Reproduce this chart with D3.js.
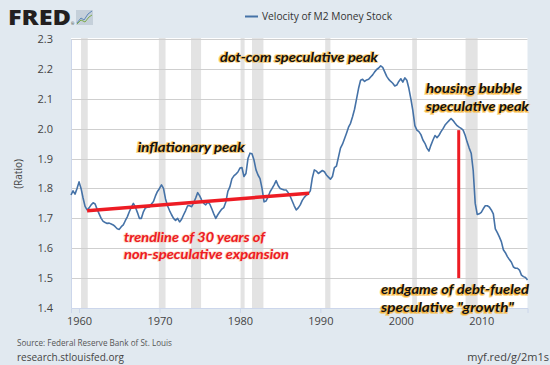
<!DOCTYPE html>
<html>
<head>
<meta charset="utf-8">
<script src="https://d3js.org/d3.v7.min.js"></script>
<style>
  body { margin: 0; background: #e1e9f0; }
  text { font-family: 'Open Sans', 'DejaVu Sans', sans-serif; }
  .note { font-family: Lato, 'Open Sans', sans-serif; font-weight: bold; font-style: italic; font-size: 14px; }
</style>
</head>
<body>
<script>
// velocity of M2, quarterly from 1959 Q1
const startYear = 1959;
const m2v = [
  1.778, 1.792, 1.781, 1.800,   // 1959
  1.822, 1.800, 1.768, 1.740,   // 1960
  1.728, 1.735, 1.745, 1.752,   // 1961
  1.748, 1.730, 1.715, 1.700,   // 1962
  1.690, 1.686, 1.683, 1.684,   // 1963
  1.681, 1.678, 1.672, 1.665,   // 1964
  1.663, 1.672, 1.678, 1.692,   // 1965
  1.705, 1.722, 1.737, 1.750,   // 1966
  1.738, 1.720, 1.700, 1.700,   // 1967
  1.722, 1.735, 1.737, 1.738,   // 1968
  1.748, 1.756, 1.775, 1.790,   // 1969
  1.800, 1.812, 1.800, 1.765,   // 1970
  1.742, 1.726, 1.712, 1.700,   // 1971
  1.693, 1.700, 1.688, 1.697,   // 1972
  1.712, 1.726, 1.742, 1.742,   // 1973
  1.739, 1.752, 1.768, 1.786,   // 1974
  1.775, 1.761, 1.750, 1.745,   // 1975
  1.754, 1.748, 1.732, 1.715,   // 1976
  1.700, 1.712, 1.722, 1.731,   // 1977
  1.736, 1.755, 1.790, 1.805,   // 1978
  1.832, 1.842, 1.848, 1.855,   // 1979
  1.868, 1.870, 1.840, 1.850,   // 1980
  1.900, 1.918, 1.916, 1.895,   // 1981
  1.862, 1.845, 1.833, 1.800,   // 1982
  1.755, 1.758, 1.772, 1.789,   // 1983
  1.800, 1.812, 1.826, 1.810,   // 1984
  1.800, 1.797, 1.795, 1.795,   // 1985
  1.786, 1.774, 1.758, 1.742,   // 1986
  1.728, 1.735, 1.745, 1.760,   // 1987
  1.770, 1.777, 1.782, 1.792,   // 1988
  1.835, 1.862, 1.858, 1.850,   // 1989
  1.855, 1.860, 1.856, 1.845,   // 1990
  1.838, 1.831, 1.840, 1.870,   // 1991
  1.875, 1.905, 1.935, 1.948,   // 1992
  1.966, 1.985, 2.005, 2.018,   // 1993
  2.040, 2.065, 2.100, 2.135,   // 1994
  2.162, 2.165, 2.158, 2.163,   // 1995
  2.165, 2.173, 2.180, 2.190,   // 1996
  2.198, 2.203, 2.210, 2.205,   // 1997
  2.190, 2.175, 2.165, 2.158,   // 1998
  2.152, 2.143, 2.146, 2.158,   // 1999
  2.167, 2.156, 2.170, 2.162,   // 2000
  2.135, 2.100, 2.060, 2.010,   // 2001
  1.995, 1.990, 1.980, 1.962,   // 2002
  1.951, 1.935, 1.925, 1.945,   // 2003
  1.962, 1.977, 1.970, 1.978,   // 2004
  1.990, 2.000, 2.012, 2.020,   // 2005
  2.027, 2.034, 2.027, 2.018,   // 2006
  2.010, 2.005, 2.001, 1.995,   // 2007
  1.978, 1.955, 1.935, 1.918,   // 2008
  1.860, 1.750, 1.713, 1.715,   // 2009
  1.720, 1.732, 1.742, 1.742,   // 2010
  1.738, 1.728, 1.715, 1.665,   // 2011
  1.652, 1.638, 1.622, 1.595,   // 2012
  1.585, 1.572, 1.562, 1.553,   // 2013
  1.537, 1.533, 1.533, 1.527,   // 2014
  1.510, 1.505, 1.502, 1.494    // 2015
];

const yTicks = [1.4, 1.5, 1.6, 1.7, 1.8, 1.9, 2.0, 2.1, 2.2, 2.3];
const xTicks = [1960, 1970, 1980, 1990, 2000, 2010];
const recessions = [[1960.25, 1961.08], [1969.92, 1970.75], [1973.92, 1975.17], [1980.08, 1980.58],
                    [1981.5, 1982.92], [1990.6, 1991.25], [2001.42, 2002.0], [2008.05, 2009.55]];

// red marks drawn on top (year, value)
const trendline = [[1961.0, 1.725], [1988.6, 1.784]];
const endLine = [[2007.2, 1.995], [2007.2, 1.50]];

// annotations: text, year, value, width
const blackNotes = [
  ["inflationary peak", 1967.29, 1.923, 107],
  ["dot-com speculative peak", 1977.52, 2.224, 158],
  ["housing bubble", 2003.13, 2.119, 96],
  ["speculative peak", 2003.13, 2.059, 103],
  ["endgame of debt-fueled", 1997.54, 1.446, 148],
  ["speculative \"growth\"", 1997.54, 1.386, 133]
];
const redNotes = [
  ["trendline of 30 years of", 1965.59, 1.622, 141],
  ["non-speculative expansion", 1965.59, 1.564, 165]
];

const W = 550, H = 365;
const svg = d3.select("body").append("svg").attr("width", W).attr("height", H);

const data = m2v.map((v, i) => ({t: startYear + i / 4, v: v}));

const x = d3.scaleLinear().domain([startYear, startYear + (m2v.length - 1) / 4]).range([71, 527.5]);
const y = d3.scaleLinear().domain([1.4, 2.3]).range([308, 39]);

// plot background
svg.append("rect").attr("x", 71).attr("y", 38).attr("width", 456.5).attr("height", 270).attr("fill", "white");

// recession bands
svg.append("g").selectAll("rect").data(recessions).enter().append("rect")
  .attr("x", d => x(d[0])).attr("y", 38)
  .attr("width", d => x(d[1]) - x(d[0])).attr("height", 270)
  .attr("fill", "#e3e3e3");

// grid
svg.append("g").selectAll("line").data(yTicks.slice(1)).enter().append("line")
  .attr("x1", 71).attr("x2", 527.5)
  .attr("y1", d => Math.round(y(d)) + 0.5).attr("y2", d => Math.round(y(d)) + 0.5)
  .attr("stroke", "#cfcfcf");

// y axis labels
const yAxis = svg.append("g").attr("transform", "translate(71,0)")
  .call(d3.axisLeft(y).tickValues(yTicks).tickFormat(d3.format(".1f")).tickSize(0).tickPadding(18));
yAxis.select(".domain").attr("stroke", "#ccd6eb");
yAxis.selectAll("text").attr("font-size", 11).attr("fill", "#444").attr("font-family", "'Open Sans', sans-serif");

// x axis
const xAxis = svg.append("g").attr("transform", "translate(0,308)")
  .call(d3.axisBottom(x).tickValues(xTicks).tickFormat(d3.format("d")).tickSize(5).tickPadding(4));
xAxis.select(".domain").attr("stroke", "#ccd6eb");
xAxis.selectAll("line").attr("stroke", "#ccd6eb");
xAxis.selectAll("text").attr("font-size", 11).attr("fill", "#444").attr("font-family", "'Open Sans', sans-serif");

// the series
const line = d3.line().x(d => x(d.t)).y(d => y(d.v));
svg.append("path").datum(data).attr("d", line)
  .attr("fill", "none").attr("stroke", "#4572a7").attr("stroke-width", 1.6).attr("stroke-linejoin", "round");

// red lines
const redLine = d3.line().x(d => x(d[0])).y(d => y(d[1]));
svg.append("path").attr("d", redLine(trendline)).attr("stroke", "#ed1c24").attr("stroke-width", 3.5).attr("fill", "none");
svg.append("path").attr("d", redLine(endLine)).attr("stroke", "#ed1c24").attr("stroke-width", 3).attr("fill", "none");

// annotations
const notes = svg.append("g");
blackNotes.forEach(n => {
  notes.append("text").attr("class", "note")
    .attr("x", x(n[1]) - 0.6).attr("y", y(n[2]) + 0.6)
    .attr("textLength", n[3]).attr("lengthAdjust", "spacingAndGlyphs")
    .attr("fill", "#f4a81f").attr("stroke", "#f6b73c").attr("stroke-width", 2).attr("stroke-opacity", 0.55)
    .text(n[0]);
  notes.append("text").attr("class", "note")
    .attr("x", x(n[1])).attr("y", y(n[2]))
    .attr("textLength", n[3]).attr("lengthAdjust", "spacingAndGlyphs")
    .attr("fill", "#111")
    .text(n[0]);
});
redNotes.forEach(n => {
  notes.append("text").attr("class", "note")
    .attr("x", x(n[1]) - 0.5).attr("y", y(n[2]) + 0.5)
    .attr("textLength", n[3]).attr("lengthAdjust", "spacingAndGlyphs")
    .attr("fill", "#f7b0a0").attr("stroke", "#f9c0a8").attr("stroke-width", 1.5).attr("stroke-opacity", 0.5)
    .text(n[0]);
  notes.append("text").attr("class", "note")
    .attr("x", x(n[1])).attr("y", y(n[2]))
    .attr("textLength", n[3]).attr("lengthAdjust", "spacingAndGlyphs")
    .attr("fill", "#ed1c24")
    .text(n[0]);
});

// y label
svg.append("text").attr("transform", "translate(22,174) rotate(-90)")
  .attr("text-anchor", "middle").attr("font-size", 10).attr("fill", "#444").text("(Ratio)");

// FRED logo
svg.append("text").attr("x", 8).attr("y", 25).attr("font-family", "'Liberation Sans', Arial, sans-serif")
  .attr("font-weight", 900).attr("font-size", 21).attr("fill", "#231f20")
  .attr("textLength", 63).attr("lengthAdjust", "spacingAndGlyphs").text("FRED");
svg.append("text").attr("x", 71).attr("y", 25).attr("font-size", 4).attr("fill", "#231f20").text("®");
svg.append("rect").attr("x", 76).attr("y", 10).attr("width", 17).attr("height", 15).attr("fill", "#c5d0da");
svg.append("path").attr("d", "M77,23 L81,18 L84,20 L88,14 L92,11").attr("fill", "none").attr("stroke", "#5b86b8").attr("stroke-width", 1);
svg.append("path").attr("d", "M77,24 L81,20 L85,22 L89,17 L92,15").attr("fill", "none").attr("stroke", "#7dab4a").attr("stroke-width", 1);

// legend
svg.append("line").attr("x1", 245).attr("x2", 258).attr("y1", 16.5).attr("y2", 16.5).attr("stroke", "#4572a7").attr("stroke-width", 2);
svg.append("text").attr("x", 262).attr("y", 20).attr("font-size", 11).attr("fill", "#333")
  .attr("textLength", 130).attr("lengthAdjust", "spacingAndGlyphs").text("Velocity of M2 Money Stock");

// footer
svg.append("text").attr("x", 17).attr("y", 346).attr("font-size", 9).attr("fill", "#555")
  .attr("textLength", 155).attr("lengthAdjust", "spacingAndGlyphs").text("Source: Federal Reserve Bank of St. Louis");
svg.append("text").attr("x", 17).attr("y", 361).attr("font-size", 11).attr("fill", "#444")
  .attr("textLength", 107).attr("lengthAdjust", "spacingAndGlyphs").text("research.stlouisfed.org");
svg.append("text").attr("x", 549).attr("y", 361).attr("text-anchor", "end").attr("font-size", 11).attr("fill", "#444")
  .text("myf.red/g/2m1s");
</script>
</body>
</html>
